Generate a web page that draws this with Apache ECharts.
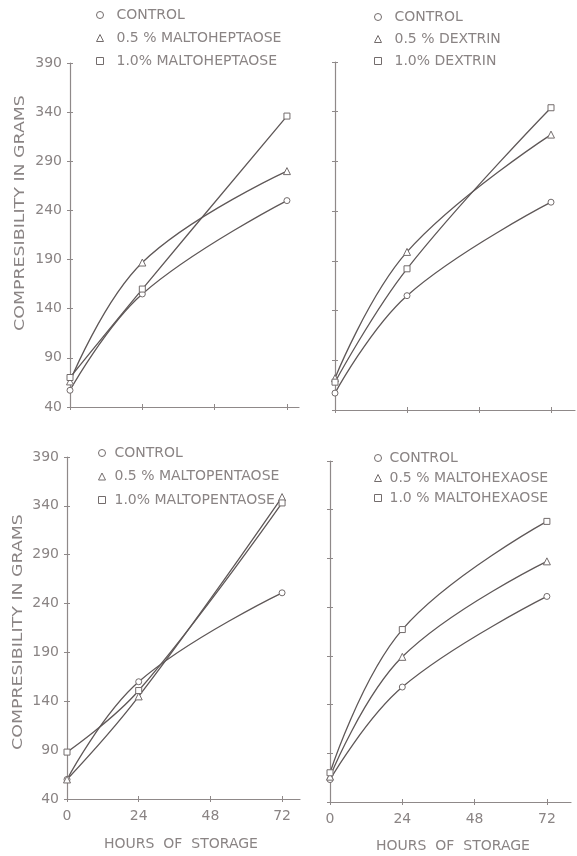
<!DOCTYPE html>
<html>
<head>
<meta charset="utf-8">
<script src="https://cdn.jsdelivr.net/npm/echarts@6/dist/echarts.min.js"></script>
<style>
  html, body { margin: 0; padding: 0; background: #ffffff; }
  #chart { width: 577px; height: 856px; }
</style>
</head>
<body>
<div id="chart"></div>
<script>
// Storage time (hours) at which compressibility was measured
const hours = [0, 24, 72];
const xTickValues = [0, 24, 48, 72];
const yTickValues = [40, 90, 140, 190, 240, 290, 340, 390];

// Maltoheptaose
const heptControl = [57, 155, 250];
const hept05 = [66, 187, 280];
const hept10 = [70, 160, 336];

// Dextrin
const dextControl = [57, 155, 249];
const dext05 = [72, 199, 317];
const dext10 = [68, 182, 344];

// Maltopentaose
const pentControl = [60, 160, 251];
const pent05 = [60, 145, 349];
const pent10 = [88, 151, 343];

// Maltohexaose
const hexControl = [63, 158, 251];
const hex05 = [66, 189, 287];
const hex10 = [70, 217, 328];

const panelNames = [
  ['CONTROL', '0.5 % MALTOHEPTAOSE', '1.0% MALTOHEPTAOSE'],
  ['CONTROL', '0.5 % DEXTRIN', '1.0% DEXTRIN'],
  ['CONTROL', '0.5 % MALTOPENTAOSE', '1.0% MALTOPENTAOSE'],
  ['CONTROL', '0.5 % MALTOHEXAOSE', '1.0 % MALTOHEXAOSE']
];
const panelData = [
  [heptControl, hept05, hept10],
  [dextControl, dext05, dext10],
  [pentControl, pent05, pent10],
  [hexControl, hex05, hex10]
];

const TEXT = '#8a8484';
const AXIS = '#8f8989';
const LINE = '#5f5858';
const MARK = '#736c6c';
const FONT = 'DejaVu Sans';
const symbols = ['circle', 'triangle', 'rect'];

// Plot areas: [left, top, width, height, xMax]; xMax > 72 lets the axis run past the last tick
const grids = [
  [70, 63, 229, 344, 76],
  [335, 62, 240, 348, 80],
  [67, 457, 233, 342, 78],
  [330, 461, 241, 341, 80]
];
const showYLabels = [true, false, true, false];
const showXLabels = [false, false, true, true];
const legendPos = [
  { left: 96, top: 8, gap: 9, pad: 8 },
  { left: 374, top: 10, gap: 8, pad: 8 },
  { left: 98, top: 446, gap: 9.5, pad: 4 },
  { left: 374, top: 451, gap: 6, pad: 3 }
];

const grid = [], xAxis = [], yAxis = [], series = [], legend = [];

grids.forEach(function (g, p) {
  grid.push({ left: g[0], top: g[1], width: g[2], height: g[3], containLabel: false });

  // main axes (outward ticks, line, labels)
  xAxis.push({
    type: 'value', gridIndex: p, min: 0, max: g[4],
    axisLine: { show: true, lineStyle: { color: AXIS, width: 1.2 } },
    axisTick: { show: true, length: 3, customValues: xTickValues, lineStyle: { color: AXIS } },
    axisLabel: {
      show: showXLabels[p], customValues: xTickValues, margin: 10,
      color: TEXT, fontFamily: FONT, fontSize: 14
    },
    splitLine: { show: false }
  });
  yAxis.push({
    type: 'value', gridIndex: p, min: 40, max: 390,
    axisLine: { show: true, lineStyle: { color: AXIS, width: 1.2 } },
    axisTick: { show: true, length: 3, customValues: yTickValues, lineStyle: { color: AXIS } },
    axisLabel: {
      show: showYLabels[p], customValues: yTickValues, margin: 8,
      color: TEXT, fontFamily: FONT, fontSize: 14
    },
    splitLine: { show: false }
  });
});

// companion axes giving the inward half of each cross-shaped tick
grids.forEach(function (g, p) {
  xAxis.push({
    type: 'value', gridIndex: p, min: 0, max: g[4], position: 'bottom',
    axisLine: { show: false },
    axisTick: { show: true, inside: true, length: 3, customValues: xTickValues, lineStyle: { color: AXIS } },
    axisLabel: { show: false }, splitLine: { show: false }
  });
  yAxis.push({
    type: 'value', gridIndex: p, min: 40, max: 390, position: 'left',
    axisLine: { show: false },
    axisTick: { show: true, inside: true, length: 3, customValues: yTickValues, lineStyle: { color: AXIS } },
    axisLabel: { show: false }, splitLine: { show: false }
  });
});

panelData.forEach(function (sets, p) {
  sets.forEach(function (vals, i) {
    series.push({
      type: 'line',
      name: panelNames[p][i],
      xAxisIndex: p, yAxisIndex: p,
      data: hours.map(function (h, k) { return [h, vals[k]]; }),
      smooth: 0.4,
      symbol: symbols[i],
      symbolSize: i === 1 ? 7 : 6,
      showAllSymbol: true,
      lineStyle: { color: LINE, width: 1.3 },
      itemStyle: { color: '#ffffff', borderColor: MARK, borderWidth: 1 },
      emphasis: { disabled: true },
      z: 3
    });
  });
  legend.push({
    orient: 'vertical',
    left: legendPos[p].left, top: legendPos[p].top,
    padding: 0,
    itemWidth: 7, itemHeight: 7, itemGap: legendPos[p].gap,
    selectedMode: false,
    data: panelNames[p].map(function (n, i) { return { name: n, icon: symbols[i] }; }),
    itemStyle: { color: '#ffffff', borderColor: MARK, borderWidth: 1 },
    lineStyle: { opacity: 0 },
    textStyle: { color: TEXT, fontFamily: FONT, fontSize: 14, lineHeight: 14, padding: [0, 0, 0, legendPos[p].pad] }
  });
});

const titleStyle = { fill: TEXT, font: '14.5px "DejaVu Sans"', align: 'center', verticalAlign: 'middle' };
const hoursStyle = { fill: TEXT, font: '14px "DejaVu Sans"', align: 'center', verticalAlign: 'middle' };
const graphic = [
  { type: 'text', x: 20, y: 213, rotation: Math.PI / 2, scaleX: 1.2, style: Object.assign({ text: 'COMPRESIBILITY IN GRAMS' }, titleStyle) },
  { type: 'text', x: 18, y: 632, rotation: Math.PI / 2, scaleX: 1.2, style: Object.assign({ text: 'COMPRESIBILITY IN GRAMS' }, titleStyle) },
  { type: 'text', x: 181, y: 844, style: Object.assign({ text: 'HOURS  OF  STORAGE' }, hoursStyle) },
  { type: 'text', x: 453, y: 846, style: Object.assign({ text: 'HOURS  OF  STORAGE' }, hoursStyle) }
];

const chart = echarts.init(document.getElementById('chart'), null, { renderer: 'canvas' });
chart.setOption({
  backgroundColor: '#ffffff',
  animation: false,
  grid: grid,
  xAxis: xAxis,
  yAxis: yAxis,
  legend: legend,
  series: series,
  graphic: graphic
});
</script>
</body>
</html>
